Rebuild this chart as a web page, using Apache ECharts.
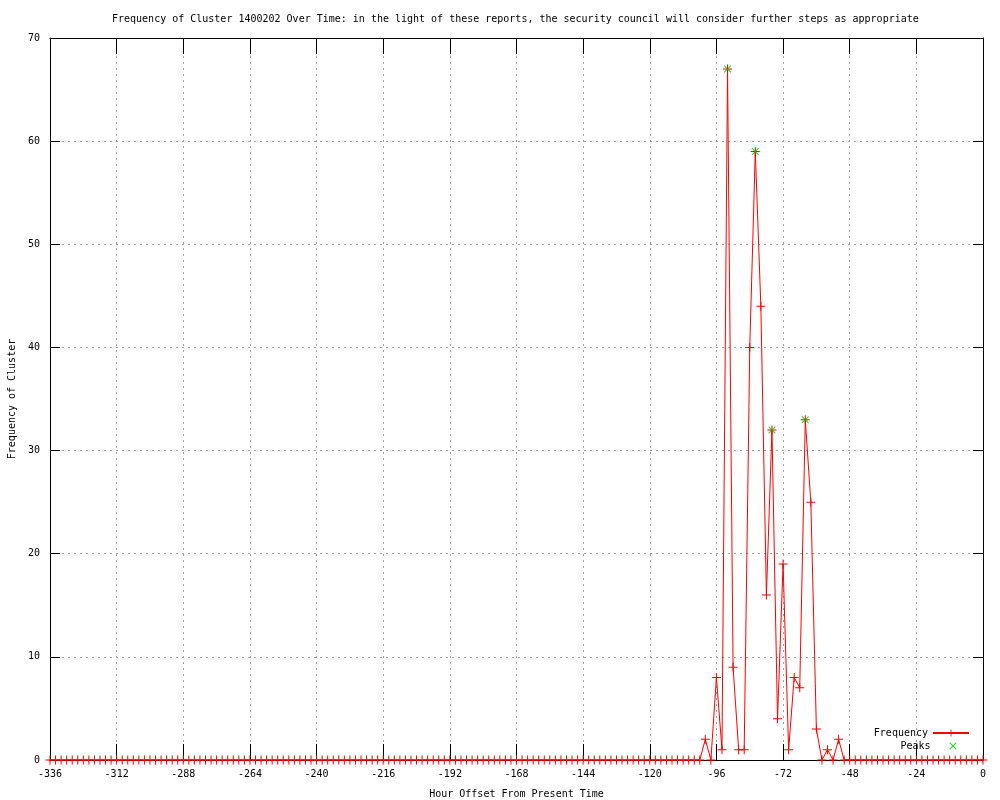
<!DOCTYPE html>
<html>
<head>
<meta charset="utf-8">
<script src="https://cdn.jsdelivr.net/npm/echarts@6/dist/echarts.min.js"></script>
<style>html,body{margin:0;padding:0;background:#fff}#c{width:1000px;height:800px}</style>
</head>
<body>
<div id="c"></div>
<script>
var titleText = 'Frequency of Cluster 1400202 Over Time: in the light of these reports, the security council will consider further steps as appropriate';
var xName = 'Hour Offset From Present Time';
var yName = 'Frequency of Cluster';

var hours = [
-336,-334,-332,-330,-328,-326,-324,-322,-320,-318,-316,-314,
-312,-310,-308,-306,-304,-302,-300,-298,-296,-294,-292,-290,
-288,-286,-284,-282,-280,-278,-276,-274,-272,-270,-268,-266,
-264,-262,-260,-258,-256,-254,-252,-250,-248,-246,-244,-242,
-240,-238,-236,-234,-232,-230,-228,-226,-224,-222,-220,-218,
-216,-214,-212,-210,-208,-206,-204,-202,-200,-198,-196,-194,
-192,-190,-188,-186,-184,-182,-180,-178,-176,-174,-172,-170,
-168,-166,-164,-162,-160,-158,-156,-154,-152,-150,-148,-146,
-144,-142,-140,-138,-136,-134,-132,-130,-128,-126,-124,-122,
-120,-118,-116,-114,-112,-110,-108,-106,-104,-102,-100,-98,
-96,-94,-92,-90,-88,-86,-84,-82,-80,-78,-76,-74,
-72,-70,-68,-66,-64,-62,-60,-58,-56,-54,-52,-50,
-48,-46,-44,-42,-40,-38,-36,-34,-32,-30,-28,-26,
-24,-22,-20,-18,-16,-14,-12,-10,-8,-6,-4,-2,
0
];
var frequency = [
0,0,0,0,0,0,0,0,0,0,0,0,
0,0,0,0,0,0,0,0,0,0,0,0,
0,0,0,0,0,0,0,0,0,0,0,0,
0,0,0,0,0,0,0,0,0,0,0,0,
0,0,0,0,0,0,0,0,0,0,0,0,
0,0,0,0,0,0,0,0,0,0,0,0,
0,0,0,0,0,0,0,0,0,0,0,0,
0,0,0,0,0,0,0,0,0,0,0,0,
0,0,0,0,0,0,0,0,0,0,0,0,
0,0,0,0,0,0,0,0,0,0,2,0,
8,1,67,9,1,1,40,59,44,16,32,4,
19,1,8,7,33,25,3,0,1,0,2,0,
0,0,0,0,0,0,0,0,0,0,0,0,
0,0,0,0,0,0,0,0,0,0,0,0,
0
];
var peakHours = [-92, -82, -76, -64];
var peakValues = [67, 59, 32, 33];
var xTicks = [-336,-312,-288,-264,-240,-216,-192,-168,-144,-120,-96,-72,-48,-24,0];
var yTicks = [0,10,20,30,40,50,60,70];

var FONT = 'DejaVu Sans Mono';
var freqData = hours.map(function(h, i){ return [h, frequency[i]]; });
var peakData = peakHours.map(function(h, i){ return [h, peakValues[i]]; });

var plusSym = 'path://M0,4L9,4L9,5L0,5Z M4,0L5,0L5,9L4,9Z';
var crossSym = 'path://M0,0L1,0L9,8L9,9L8,9L0,1Z M8,0L9,0L9,1L1,9L0,9L0,8Z';

var gridLine = {show: true, lineStyle: {color: '#a0a0a0', type: [2, 4], width: 1}};
var chart = echarts.init(document.getElementById('c'), null, {renderer: 'canvas'});
chart.setOption({
  animation: false,
  backgroundColor: '#ffffff',
  title: {
    text: titleText, left: 107, top: 9,
    textStyle: {fontFamily: FONT, fontSize: 10, fontWeight: 'normal', color: '#000'}
  },
  grid: {left: 50, right: 17, top: 38, bottom: 40, containLabel: false, outerBoundsMode: 'none'},
  legend: [
    {data: ['Frequency'], orient: 'vertical', align: 'right', right: 30, top: 728, padding: 0,
     itemWidth: 36, itemHeight: 9, textStyle: {fontFamily: FONT, fontSize: 10, color: '#000'}},
    {data: [{name: 'Peaks', icon: crossSym}], orient: 'vertical', align: 'right', right: 43.5, top: 741, padding: 0,
     itemWidth: 7, itemHeight: 7,
     textStyle: {fontFamily: FONT, fontSize: 10, color: '#000', padding: [0, 14, 0, 0]}}
  ],
  xAxis: [{
    type: 'value', min: xTicks[0], max: xTicks[xTicks.length-1], interval: 24,
    name: xName, nameLocation: 'middle', nameGap: 29,
    nameTextStyle: {fontFamily: FONT, fontSize: 10, color: '#000'},
    axisLine: {onZero: false, lineStyle: {color: '#000', width: 1}},
    axisTick: {inside: true, length: 16, lineStyle: {color: '#000'}},
    axisLabel: {fontFamily: FONT, fontSize: 10, color: '#000', margin: 9},
    splitLine: gridLine
  }, {
    type: 'value', position: 'top', min: xTicks[0], max: xTicks[xTicks.length-1], interval: 24,
    axisLine: {onZero: false, lineStyle: {color: '#000', width: 1}},
    axisTick: {inside: true, length: 16, lineStyle: {color: '#000'}},
    axisLabel: {show: false}, splitLine: {show: false}
  }],
  yAxis: [{
    type: 'value', min: yTicks[0], max: yTicks[yTicks.length-1], interval: 10,
    name: yName, nameLocation: 'middle', nameGap: 33, nameRotate: 90,
    nameTextStyle: {fontFamily: FONT, fontSize: 10, color: '#000'},
    axisLine: {show: true, onZero: false, lineStyle: {color: '#000', width: 1}},
    axisTick: {show: true, inside: true, length: 10, lineStyle: {color: '#000'}},
    axisLabel: {fontFamily: FONT, fontSize: 10, color: '#000', margin: 10},
    splitLine: gridLine
  }, {
    type: 'value', position: 'right', min: yTicks[0], max: yTicks[yTicks.length-1], interval: 10,
    axisLine: {show: true, onZero: false, lineStyle: {color: '#000', width: 1}},
    axisTick: {show: true, inside: true, length: 10, lineStyle: {color: '#000'}},
    axisLabel: {show: false}, splitLine: {show: false}
  }],
  series: [{
    name: 'Frequency', type: 'line', data: freqData,
    symbol: plusSym, symbolSize: 9, showAllSymbol: true,
    lineStyle: {color: '#ff0000', width: 1},
    itemStyle: {color: '#ff0000'},
    z: 2
  }, {
    name: 'Peaks', type: 'scatter', data: peakData,
    symbol: crossSym, symbolSize: 7,
    itemStyle: {color: '#00c000'},
    z: 3
  }]
});
</script>
</body>
</html>
